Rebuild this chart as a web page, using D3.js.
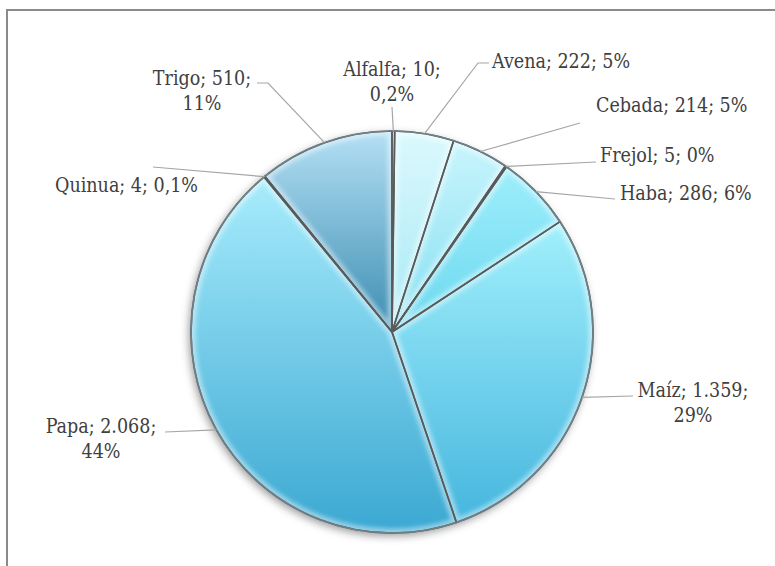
<!DOCTYPE html>
<html>
<head>
<meta charset="utf-8">
<script src="https://cdn.jsdelivr.net/npm/d3@7"></script>
<style>
  html, body { margin: 0; padding: 0; background: #fff; }
  svg { display: block; }
  .lbl { font-family: "DejaVu Serif Condensed", "DejaVu Serif", serif; font-size: 19.5px; fill: #404040; }
</style>
</head>
<body>
<svg id="chart" width="775" height="566"></svg>
<script>
const crops = ['Alfalfa', 'Avena', 'Cebada', 'Frejol', 'Haba', 'Maíz', 'Papa', 'Quinua', 'Trigo'];
const hectares = [10, 222, 214, 5, 286, 1359, 2068, 4, 510];
const pctLabels = ['0,2%', '5%', '5%', '0%', '6%', '29%', '44%', '0,1%', '11%'];
const topColors = ['#e2fafd', '#dcf9fd', '#c8f5fc', '#b6f1fb', '#9eeefb', '#a2f0fc', '#a8ecfc', '#a8ecfc', '#b4e0f4'];
const bottomColors = ['#b4ecf6', '#a6e8f5', '#86dff1', '#74daef', '#6cd8ef', '#46b6de', '#3ba8d2', '#3ba8d2', '#3c8db2'];

// label placement: where the leader ends and where the text sits
const labelLayout = [
  { tx: 392, ty: 76, anchor: 'middle', wrap: true, leader: [[392, 107]] },
  { tx: 492, ty: 68, anchor: 'start', wrap: false, leader: [[478, 63], [489, 63]] },
  { tx: 596, ty: 112, anchor: 'start', wrap: false, leader: [[580, 123]] },
  { tx: 600, ty: 162, anchor: 'start', wrap: false, leader: [[596, 162]] },
  { tx: 620, ty: 200, anchor: 'start', wrap: false, leader: [[615, 199]] },
  { tx: 693, ty: 397, anchor: 'middle', wrap: true, leader: [[633, 396]] },
  { tx: 101, ty: 433, anchor: 'middle', wrap: true, leader: [[165, 432]] },
  { tx: 55, ty: 192, anchor: 'start', wrap: false, leader: [[153, 167]] },
  { tx: 202, ty: 85, anchor: 'middle', wrap: true, leader: [[268, 83], [257, 83]] }
];

const cx = 392, cy = 332, radius = 201;
const LINE_GAP = 25;

const locale = d3.formatLocale({ decimal: ',', thousands: '.', grouping: [3], currency: ['', ''] });
const fmt = locale.format(',d');

const svg = d3.select('#chart');
const defs = svg.append('defs');

crops.forEach((c, i) => {
  const g = defs.append('linearGradient')
    .attr('id', 'grad' + i)
    .attr('x1', 0).attr('y1', 0).attr('x2', 0).attr('y2', 1);
  g.append('stop').attr('offset', '0%').attr('stop-color', topColors[i]);
  g.append('stop').attr('offset', '100%').attr('stop-color', bottomColors[i]);
});

const shadow = defs.append('filter').attr('id', 'shadow')
  .attr('x', '-20%').attr('y', '-20%').attr('width', '140%').attr('height', '140%');
shadow.append('feDropShadow')
  .attr('dx', -2).attr('dy', 3).attr('stdDeviation', 4)
  .attr('flood-color', '#000').attr('flood-opacity', 0.4);

const soft = defs.append('filter').attr('id', 'soft');
soft.append('feGaussianBlur').attr('stdDeviation', 2);

/* chart frame (cut off at right and bottom) */
svg.append('rect')
  .attr('x', 7).attr('y', 10)
  .attr('width', 820).attr('height', 620)
  .attr('fill', 'none')
  .attr('stroke', '#8a8a8a')
  .attr('stroke-width', 2);

const pie = d3.pie().sort(null).value((d) => d);
const arcs = pie(hectares);
const arc = d3.arc().innerRadius(0).outerRadius(radius);

const pieG = svg.append('g').attr('transform', `translate(${cx}, ${cy})`);

/* shadow under the whole pie */
pieG.append('circle')
  .attr('r', radius)
  .attr('fill', '#fff')
  .attr('filter', 'url(#shadow)');

const slices = pieG.selectAll('.slice')
  .data(arcs)
  .enter()
  .append('g')
  .attr('class', 'slice');

slices.each(function (d, i) {
  const g = d3.select(this);
  const p = arc(d);
  defs.append('clipPath').attr('id', 'clip' + i)
    .append('path').attr('d', p).attr('transform', `translate(${cx}, ${cy})`);

  g.append('path')
    .attr('d', p)
    .attr('fill', `url(#grad${i})`);

  // bevel-ish inner glow along the edges
  const inner = svg.append('g').attr('clip-path', `url(#clip${i})`);
  inner.append('path')
    .attr('d', p)
    .attr('transform', `translate(${cx}, ${cy})`)
    .attr('fill', 'none')
    .attr('stroke', '#ffffff')
    .attr('stroke-opacity', 0.45)
    .attr('stroke-width', 9)
    .attr('filter', 'url(#soft)');
});

/* slice borders on top */
const borderG = svg.append('g').attr('transform', `translate(${cx}, ${cy})`);
borderG.selectAll('path')
  .data(arcs)
  .enter()
  .append('path')
  .attr('d', arc)
  .attr('fill', 'none')
  .attr('stroke', '#5a5a5a')
  .attr('stroke-width', 1.6)
  .attr('stroke-linejoin', 'round');

borderG.append('circle')
  .attr('r', radius)
  .attr('fill', 'none')
  .attr('stroke', '#6e7f86')
  .attr('stroke-width', 1.6);

/* leader lines */
const lineGen = d3.line();
const leaderG = svg.append('g');
arcs.forEach((d, i) => {
  const mid = (d.startAngle + d.endAngle) / 2;
  const start = [cx + radius * Math.sin(mid), cy - radius * Math.cos(mid)];
  leaderG.append('path')
    .attr('d', lineGen([start, ...labelLayout[i].leader]))
    .attr('fill', 'none')
    .attr('stroke', '#a6a6a6')
    .attr('stroke-width', 1.2);
});

/* labels */
const labelG = svg.append('g');
crops.forEach((c, i) => {
  const L = labelLayout[i];
  const t = labelG.append('text')
    .attr('class', 'lbl')
    .attr('x', L.tx)
    .attr('y', L.ty)
    .attr('text-anchor', L.anchor);
  if (L.wrap) {
    t.append('tspan').attr('x', L.tx).text(`${c}; ${fmt(hectares[i])};`);
    t.append('tspan').attr('x', L.tx).attr('dy', LINE_GAP).text(pctLabels[i]);
  } else {
    t.text(`${c}; ${fmt(hectares[i])}; ${pctLabels[i]}`);
  }
});
</script>
</body>
</html>
